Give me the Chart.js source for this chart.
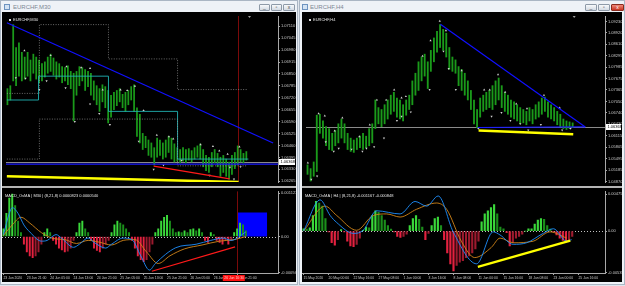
<!DOCTYPE html>
<html>
<head>
<meta charset="utf-8">
<script src="https://cdn.jsdelivr.net/npm/chart.js@4.4.0/dist/chart.umd.min.js"></script>
<style>
html, body { margin: 0; padding: 0; }
body { width: 625px; height: 286px; background: #dfe5ec; position: relative; overflow: hidden; font-family: "Liberation Sans", Arial, sans-serif; }
.win { position: absolute; top: 0; height: 285px; background: #eef2f7; border: 1px solid #aab6c4; box-sizing: border-box; }
.ttl { position: absolute; top: 3px; font-size: 6px; color: #7d8794; }
.ico { position: absolute; top: 3px; width: 6px; height: 6px; border: 1px solid #6d93c0; background: #d3e3f4; box-sizing: border-box; }
.btn { position: absolute; top: 3px; height: 7px; border: 1px solid #8e9aa8; background: linear-gradient(#f7f9fb, #d3dae3); box-sizing: border-box; border-radius: 1px; font-size: 5px; line-height: 5px; text-align: center; color: #444; }
.pane { position: absolute; background: #000; }
.sep { position: absolute; height: 2px; background: #b4b4b4; }
canvas { position: absolute; }
</style>
</head>
<body>
<div class="win" style="left:0;width:298px">
  <div class="ico" style="left:3px"></div><div class="ttl" style="left:12px">EURCHF,M30</div>
  <div class="btn" style="left:258px;width:11px">_</div>
  <div class="btn" style="left:270px;width:11px">▫</div>
  <div class="btn" style="left:282px;width:12px">x</div>
</div>
<div class="win" style="left:299px;width:326px">
  <div class="ico" style="left:2px"></div><div class="ttl" style="left:10px">EURCHF,H4</div>
  <div class="btn" style="left:285px;width:12px">_</div>
  <div class="btn" style="left:298px;width:12px">▫</div>
  <div class="btn" style="left:311px;width:13px;background:linear-gradient(#f08a7a,#c8321f);border-color:#8a2a1e;color:#fff">x</div>
</div>
<div class="pane" style="left:2px;top:12px;width:294px;height:270px"></div>
<div class="pane" style="left:302px;top:12px;width:320px;height:270px"></div>
<canvas id="mainL" width="294" height="174" style="left:2px;top:12px"></canvas>
<canvas id="macdL" width="294" height="94" style="left:2px;top:188px"></canvas>
<canvas id="mainR" width="320" height="174" style="left:302px;top:12px"></canvas>
<canvas id="macdR" width="320" height="94" style="left:302px;top:188px"></canvas>
<div class="sep" style="left:2px;top:186px;width:294px"></div>
<div class="sep" style="left:302px;top:186px;width:320px"></div>
<script>
// ---------- EURCHF,M30 (left) ----------
const highL = [1.06770, 1.06786, 1.07119, 1.06994, 1.07020, 1.06968, 1.06942, 1.06968, 1.06926, 1.06958,
  1.06942, 1.06926, 1.06906, 1.06916, 1.06942, 1.06958, 1.06937, 1.06916, 1.06906, 1.06890,
  1.06885, 1.06895, 1.06864, 1.06854, 1.06864, 1.06890, 1.06885, 1.06874, 1.06864, 1.06854,
  1.06812, 1.06786, 1.06770, 1.06791, 1.06781, 1.06760, 1.06734, 1.06750, 1.06760, 1.06770,
  1.06739, 1.06750, 1.06760, 1.06781, 1.06791, 1.06666, 1.06630, 1.06526, 1.06510, 1.06490,
  1.06474, 1.06448, 1.06500, 1.06490, 1.06474, 1.06490, 1.06510, 1.06500, 1.06469, 1.06448,
  1.06438, 1.06448, 1.06438, 1.06443, 1.06432, 1.06448, 1.06458, 1.06469, 1.06438, 1.06406,
  1.06396, 1.06422, 1.06438, 1.06417, 1.06396, 1.06406, 1.06386, 1.06370, 1.06406, 1.06422,
  1.06458, 1.06438, 1.06417, 1.06427];
const lowL = [1.06682, 1.06708, 1.06812, 1.06786, 1.06838, 1.06812, 1.06822, 1.06838, 1.06812, 1.06854,
  1.06822, 1.06802, 1.06812, 1.06833, 1.06854, 1.06864, 1.06843, 1.06822, 1.06833, 1.06802,
  1.06812, 1.06791, 1.06770, 1.06594, 1.06734, 1.06786, 1.06812, 1.06760, 1.06781, 1.06734,
  1.06708, 1.06682, 1.06646, 1.06698, 1.06666, 1.06583, 1.06614, 1.06656, 1.06677, 1.06698,
  1.06666, 1.06646, 1.06682, 1.06708, 1.06646, 1.06510, 1.06474, 1.06438, 1.06448, 1.06406,
  1.06396, 1.06354, 1.06396, 1.06406, 1.06386, 1.06396, 1.06422, 1.06386, 1.06370, 1.06375,
  1.06365, 1.06375, 1.06365, 1.06380, 1.06370, 1.06386, 1.06396, 1.06386, 1.06344, 1.06323,
  1.06313, 1.06344, 1.06365, 1.06344, 1.06292, 1.06313, 1.06292, 1.06276, 1.06302, 1.06334,
  1.06354, 1.06370, 1.06365, 1.06380];
const priceTicksL = [1.07110, 1.07045, 1.06980, 1.06915, 1.06850, 1.06785, 1.06720, 1.06655, 1.06590, 1.06525, 1.06460, 1.06395, 1.06330, 1.06265];
const lastPrice = 1.06368;
const timeIdxL = [0, 8, 16, 24, 32, 40, 48, 56, 64, 72, 80];
const timeLabelsL = ['23 Jun 2020', '23 Jun 21:00', '24 Jun 05:00', '24 Jun 13:00', '24 Jun 21:00', '25 Jun 05:00', '25 Jun 13:00', '25 Jun 21:00', '26 Jun 05:00', '26 Jun 13:00', '26 Jun 21:00'];
const trendBlueL = [[-0.2, 1.07129], [92.3, 1.06474]];
const supportBlueL = [[-0.5, 1.06358], [94, 1.06358]];
const yellowL = [[-0.2, 1.06292], [80.3, 1.06261]];
const redL = [[50.8, 1.06348], [77.2, 1.06278]];
const upperChanL = [[-0.2, 1.06744], [11.1, 1.07119], [35.1, 1.06932], [59.1, 1.06765], [83.4, 1.06765]];
const lowerChanL = [[-0.2, 1.06386], [11.1, 1.06604], [59.1, 1.06349], [83.4, 1.06349]];
const midStepL = [[-0.2, 1.06708], [10.8, 1.06838], [35.1, 1.06646], [59.1, 1.06386], [83.7, 1.06386]];
const fracUpL = [[5.9, 1.06977], [15, 1.06951], [20.5, 1.06890], [25.6, 1.06885], [28.7, 1.06881], [33.1, 1.06764], [39.3, 1.06764], [41.6, 1.06760], [44.3, 1.06784], [47.3, 1.06651], [51.9, 1.06517], [56.1, 1.06509], [57.6, 1.06496], [67.1, 1.06465], [71.4, 1.06455], [73.6, 1.06431], [76.5, 1.06413], [80.6, 1.06453]];
const fracDnL = [[2.9, 1.06829], [6.3, 1.06826], [11.1, 1.06765], [13.6, 1.06812], [20.2, 1.06774], [23.4, 1.06590], [28.7, 1.06686], [31.9, 1.06634], [35.6, 1.06573], [45.6, 1.06483], [50.8, 1.06330], [54.2, 1.06353], [60.5, 1.06379], [70.2, 1.06297], [77.3, 1.06340], [78.7, 1.06276], [81, 1.06344]];
const periodSepL = 80;
const histL = [0.0002, 0.0006, 0.0010, 0.0011, 0.0008, 0.0004, 0.0001, -0.0002, -0.0004, -0.0005,
  -0.00055, -0.0005, -0.0004, -0.0002, 0.0001, 0.0002, 0.0001, -0.0001, -0.0002, -0.0003,
  -0.00035, -0.0004, -0.00038, -0.0003, -0.0001, 0.0001, 0.00035, 0.0004, 0.0002, 0.0001,
  -0.0001, -0.0003, -0.00036, -0.0004, -0.0003, -0.0002, -0.0001, 0.0001, 0.0003, 0.0004,
  0.00035, 0.0003, 0.0002, 0.0001, -0.0001, -0.0003, -0.0005, -0.0006, -0.00065, -0.0006,
  -0.0004, -0.0002, 0.0001, 0.0002, 0.0004, 0.0005, 0.00055, 0.0004, 0.0002, 0.0001,
  0.00012, 0.0001, 0.00015, 0.0001, 0.00018, 0.0002, 0.00015, 0.0002, 0.0001, -0.0001,
  -0.00015, 0.0001, 0.00005, -0.0001, -0.00015, -0.0002, -0.0001, -0.0002, -0.0001, 0.0001,
  0.0002, 0.00035, 0.0003, 0.00015];
const macdL = [[0, 0.00005], [2, 0.0006], [3, 0.00075], [5, 0.0006], [7, 0.0003], [9, 0.00012], [13, -0.00012], [15, -0.0001], [18, 0.00005], [20, -0.00005], [24, -0.00028], [26, -0.0002], [29, -0.00004], [31, -0.00015], [35, -0.0003], [37, -0.0002], [41, -0.00004], [44, -0.00008], [47, -0.0005], [50, -0.00087], [52, -0.0007], [59, -0.00029], [66, -0.0002], [71, -0.0001], [75, -0.00004], [78, -0.0001], [83, 0.00012]];
const signalL = [[0, 0.00003], [3, 0.0003], [6, 0.0005], [9, 0.00035], [13, 0.0001], [17, -0.00005], [21, -0.00008], [25, -0.00018], [29, -0.0001], [33, -0.00015], [37, -0.00022], [41, -0.0001], [45, -0.00008], [49, -0.0004], [53, -0.0007], [57, -0.0005], [62, -0.00032], [68, -0.00022], [74, -0.00012], [79, -0.00008], [83, 0]];
const macdRedL = [[50.8, -0.0009], [79.3, -0.00027]];
const blueBoxL = [[80.3, 0.00062], [90.3, 0.00062]];
const macdTicksL = [0.00112, 0, -0.00094];
const macdLabelsL = ['0.001123', '0.00', '-0.000940'];

// ---------- EURCHF,H4 (right) ----------
const highR = [1.05329, 1.05226, 1.05407, 1.06679, 1.06705, 1.06523, 1.06367, 1.06315, 1.06186, 1.06264,
  1.06445, 1.06575, 1.06445, 1.06186, 1.06056, 1.06004, 1.06056, 1.06108, 1.06186, 1.06108,
  1.06315, 1.06445, 1.07094, 1.06886, 1.06834, 1.06964, 1.07094, 1.07224, 1.07302, 1.07146,
  1.07094, 1.06964, 1.07094, 1.07224, 1.07613, 1.07821, 1.08132, 1.08262, 1.08340, 1.08132,
  1.08443, 1.08781, 1.08962, 1.09144, 1.09014, 1.08910, 1.08521, 1.08262, 1.08184, 1.08002,
  1.07924, 1.07821, 1.07613, 1.07353, 1.07094, 1.06834, 1.07146, 1.07224, 1.07302, 1.07353,
  1.07483, 1.07613, 1.07691, 1.07483, 1.07302, 1.07224, 1.07094, 1.07042, 1.06964, 1.06886,
  1.06834, 1.06783, 1.06886, 1.06834, 1.06964, 1.07042, 1.07146, 1.07172, 1.07042, 1.06964,
  1.06886, 1.06783, 1.06705, 1.06575, 1.06523, 1.06497, 1.06471];
const lowR = [1.05070, 1.04888, 1.05018, 1.05148, 1.06186, 1.06056, 1.05848, 1.05745, 1.05719, 1.05848,
  1.05926, 1.06056, 1.05926, 1.05745, 1.05693, 1.05667, 1.05745, 1.05796, 1.05745, 1.05796,
  1.05848, 1.05926, 1.06315, 1.06445, 1.06367, 1.06445, 1.06575, 1.06705, 1.06783, 1.06627,
  1.06575, 1.06523, 1.06679, 1.06834, 1.06964, 1.07224, 1.07353, 1.07613, 1.07743, 1.07405,
  1.07872, 1.08132, 1.08391, 1.08521, 1.08443, 1.08262, 1.07924, 1.07872, 1.07821, 1.07483,
  1.07353, 1.07224, 1.07094, 1.06834, 1.06445, 1.06341, 1.06627, 1.06783, 1.06834, 1.06886,
  1.06834, 1.06964, 1.07094, 1.06886, 1.06783, 1.06705, 1.06627, 1.06575, 1.06523, 1.06445,
  1.06471, 1.06419, 1.06523, 1.06445, 1.06575, 1.06627, 1.06705, 1.06783, 1.06627, 1.06575,
  1.06523, 1.06419, 1.06367, 1.06315, 1.06290, 1.06315, 1.06341];
const priceTicksR = [1.09230, 1.08920, 1.08610, 1.08295, 1.07985, 1.07675, 1.07365, 1.07050, 1.06740, 1.06430, 1.06115, 1.05805, 1.05495, 1.05185, 1.04870];
const timeIdxR = [0, 8, 16, 24, 32, 40, 48, 56, 64, 72, 80, 88];
const timeLabelsR = ['15 May 2020', '20 May 00:00', '22 May 16:00', '27 May 08:00', '1 Jun 00:00', '3 Jun 16:00', '8 Jun 08:00', '11 Jun 00:00', '15 Jun 16:00', '18 Jun 08:00', '23 Jun 00:00', '25 Jun 16:00'];
const trendBlueR = [[43.1, 1.09152], [90.1, 1.06360]];
const supportBlueR = [[55.2, 1.06345], [90.1, 1.06360]];
const yellowR = [[55.5, 1.06264], [86.2, 1.06160]];
const fracUpR = [[0.1, 1.05381], [3.6, 1.06723], [5.6, 1.06661], [8.8, 1.06256], [11.3, 1.06609], [16.8, 1.06100], [20.2, 1.06419], [22.5, 1.07094], [25.5, 1.07094], [28.1, 1.07372], [30.5, 1.07154], [31.9, 1.07190], [37.3, 1.08288], [39.9, 1.08711], [42.9, 1.09240], [44.9, 1.08981], [50, 1.07891], [57.3, 1.07372], [59.1, 1.07372], [61.8, 1.07787], [64.1, 1.07309], [67.7, 1.06990], [71.2, 1.06860], [76.7, 1.07224], [81.8, 1.06879]];
const fracDnR = [[1.2, 1.04932], [3.1, 1.05018], [5.9, 1.05952], [8.5, 1.05693], [10.1, 1.05778], [14.3, 1.05752], [17.8, 1.05693], [19.1, 1.05778], [21.6, 1.05815], [24.8, 1.06056], [29, 1.06531], [30.5, 1.06645], [33.5, 1.06765], [39.6, 1.07372], [44.1, 1.08418], [45.8, 1.07943], [48.1, 1.07372], [55.4, 1.06316], [59.7, 1.06645], [62.9, 1.06749], [65.8, 1.06531], [69, 1.06445], [71.6, 1.06272], [75.7, 1.06419], [82.6, 1.06272], [85.3, 1.06316]];
const histR = [0.0003, 0.00025, 0.0004, 0.002, 0.0038, 0.0036, 0.0032, 0.0016, -0.0001, -0.0015,
  -0.0018, -0.0011, 0.0002, -0.0001, -0.0013, -0.0019, -0.002, -0.0017, -0.0009, 0.0001,
  0.0005, 0.0004, 0.002, 0.0026, 0.0024, 0.002, 0.0014, 0.0007, 0.00025, -0.0001,
  -0.0007, -0.0008, -0.0007, -0.0004, 0.0007, 0.0016, 0.002, 0.0015, 0.0005, -0.0011,
  -0.0003, 0.0007, 0.0016, 0.0018, 0.0007, -0.0011, -0.0028, -0.0042, -0.0051, -0.0044,
  -0.004, -0.0038, -0.0034, -0.0032, -0.0028, -0.0023, -0.0013, 0.0012, 0.0022, 0.0026,
  0.003, 0.0034, 0.0022, 0.0005, 0.0003, -0.0002, -0.0019, -0.0015, -0.0009, -0.0007,
  -0.0004, 0, 0.0003, 0.0003, 0.0009, 0.0014, 0.0016, 0.0015, 0.0007, 0.00025,
  -0.0001, -0.0005, -0.0009, -0.0012, -0.0014, -0.0011, -0.0007];
const macdR = [[0, 0], [5.3, 0.004], [8.5, 0.002], [10.6, 0.0011], [16, -0.0003], [19.1, 0.0001], [23.4, 0.0026], [30.9, 0.0022], [35.7, 0.0038], [39.4, 0.0032], [43.1, 0.0045], [47.9, -0.0001], [55.4, -0.0042], [60.7, -0.0001], [62.9, -0.0005], [67.1, -0.0017], [71.4, -0.0015], [76.7, -0.0003], [80, 0.0003], [84.2, -0.0013], [85.8, -0.0011]];
const signalR = [[0, 0], [6.9, 0.0032], [10.6, 0.002], [17, 0.0001], [22.3, 0.002], [26.6, 0.0022], [30.9, 0.0018], [36.2, 0.0028], [42.6, 0.0036], [45.8, 0.0028], [50.5, -0.0013], [54.8, -0.0034], [60.1, -0.0021], [62.9, -0.0009], [67.1, -0.0015], [73.5, -0.0013], [78.9, -0.0001], [84.2, -0.0009]];
const macdYellowR = [[55.8, -0.0046], [85.4, -0.00123]];
const macdTicksR = [0.004754, 0, -0.00535];
const macdLabelsR = ['0.004754', '0.00', '-0.005351'];

Chart.defaults.font.family = '"Liberation Sans", Arial, sans-serif';
Chart.defaults.font.size = 4;
Chart.defaults.color = '#c8c8c8';

const pts = arr => arr.map(p => ({ x: p[0], y: p[1] }));

// MT4 furniture: window label, level line, period separator, price box, shift marker
const mt4 = {
  id: 'mt4',
  beforeDatasetsDraw(chart, args, o) {
    const { ctx, chartArea: a, scales: { x, y } } = chart;
    ctx.save();
    if (o.sep !== undefined) {
      const px = Math.round(x.getPixelForValue(o.sep)) + 0.5;
      ctx.strokeStyle = '#7a0a0a'; ctx.lineWidth = 1;
      ctx.beginPath(); ctx.moveTo(px, a.top); ctx.lineTo(px, a.bottom); ctx.stroke();
    }
    if (o.zero) {
      const py = Math.round(y.getPixelForValue(0)) + 0.5;
      ctx.strokeStyle = '#c0c0c0'; ctx.setLineDash([1, 2]);
      ctx.beginPath(); ctx.moveTo(a.left, py); ctx.lineTo(a.right, py); ctx.stroke();
      ctx.setLineDash([]);
    }
    if (o.price !== undefined) {
      const py = Math.round(y.getPixelForValue(o.price)) + 0.5;
      ctx.strokeStyle = '#8a8a8a';
      ctx.beginPath(); ctx.moveTo(a.left, py); ctx.lineTo(a.right, py); ctx.stroke();
    }
    ctx.restore();
  },
  afterDraw(chart, args, o) {
    const { ctx, chartArea: a, scales: { x, y } } = chart;
    ctx.save();
    ctx.textBaseline = 'middle';
    if (o.title) {
      ctx.font = '4px "Liberation Sans", Arial';
      if (o.square) { ctx.fillStyle = '#e0e0e0'; ctx.fillRect(a.left + 3, a.top + 3, 2, 2); }
      ctx.fillStyle = '#e6e6e6';
      ctx.fillText(o.title, a.left + (o.square ? 7 : 3), a.top + 4);
    }
    if (o.price !== undefined) {
      const py = Math.round(y.getPixelForValue(o.price));
      ctx.fillStyle = '#ffffff';
      ctx.fillRect(a.right + 1, py - 3, chart.width - a.right - 2, 6);
      ctx.fillStyle = '#000000';
      ctx.font = '4px "Liberation Sans", Arial';
      ctx.fillText(o.price.toFixed(5), a.right + 2.5, py + 0.3);
    }
    if (o.shift !== undefined) {
      const px = x.getPixelForValue(o.shift);
      ctx.fillStyle = '#a0a0a0';
      ctx.beginPath(); ctx.moveTo(px - 1.5, a.top); ctx.lineTo(px + 1.5, a.top); ctx.lineTo(px, a.top + 2); ctx.fill();
    }
    if (o.timeBox) {
      const px = x.getPixelForValue(o.timeBox[0]);
      ctx.fillStyle = '#ff1010';
      ctx.fillRect(px, a.bottom + 2, 22, 6);
      ctx.fillStyle = '#ffc8c8';
      ctx.font = '3.4px "Liberation Sans", Arial';
      ctx.fillText(o.timeBox[1], px + 1.5, a.bottom + 5.2);
    }
    ctx.restore();
  }
};

function priceAxis(min, max, ticks, w) {
  return {
    position: 'right', min: min, max: max,
    afterBuildTicks: s => { s.ticks = ticks.map(v => ({ value: v })); },
    afterFit: s => { s.width = w; },
    ticks: { autoSkip: false, padding: 1, callback: (v, i) => ticks[i].toFixed(5) },
    grid: { drawOnChartArea: false, tickLength: 2, color: '#a8a8a8' },
    border: { color: '#a8a8a8' }
  };
}

function levelAxis(min, max, ticks, labels, w) {
  return {
    position: 'right', min: min, max: max,
    afterBuildTicks: s => { s.ticks = ticks.map(v => ({ value: v })); },
    afterFit: s => { s.width = w; },
    ticks: { autoSkip: false, padding: 1, callback: (v, i) => labels[i] },
    grid: { drawOnChartArea: false, tickLength: 2, color: '#a8a8a8' },
    border: { color: '#a8a8a8' }
  };
}

function timeAxis(max, idx, labels) {
  return {
    type: 'linear', min: -0.5, max: max, offset: false,
    afterBuildTicks: s => { s.ticks = idx.map(v => ({ value: v })); },
    afterFit: s => { s.height = 9; },
    ticks: { autoSkip: false, maxRotation: 0, align: 'start', padding: 1, font: { size: 3.4 }, callback: (v, i) => labels[i] },
    grid: { drawOnChartArea: false, tickLength: 2, color: '#a8a8a8', offset: false },
    border: { color: '#a8a8a8' }
  };
}

function lineSet(data, color, width, order, extra) {
  return Object.assign({ type: 'line', data: pts(data), borderColor: color, borderWidth: width, pointRadius: 0, tension: 0, order: order }, extra || {});
}

function markerSet(data, down) {
  return { type: 'line', data: pts(data), showLine: false, pointStyle: 'triangle', pointRadius: 1.3, pointRotation: down ? 180 : 0, pointBackgroundColor: '#cfcfcf', pointBorderWidth: 0, order: 5 };
}

function histColor(hist) {
  return c => {
    const v = hist[c.dataIndex], p = c.dataIndex > 0 ? hist[c.dataIndex - 1] : v;
    if (v >= 0) return v >= p ? '#3ad83a' : '#1b8f1b';
    return v <= p ? '#e3213f' : '#9c1a2e';
  };
}

const baseOpts = (scales, mt4opts) => ({
  responsive: false, animation: false, maintainAspectRatio: false,
  layout: { padding: 0 },
  plugins: { legend: { display: false }, tooltip: { enabled: false }, mt4: mt4opts },
  scales: scales
});

// left main
new Chart(document.getElementById('mainL'), {
  type: 'bar',
  data: {
    datasets: [
      lineSet(trendBlueL, '#1010ff', 1.2, 1),
      lineSet(supportBlueL, '#1a1aff', 1.2, 1),
      lineSet(yellowL, '#ffff00', 2.5, 1),
      lineSet(redL, '#ff1a1a', 1.2, 1),
      markerSet(fracUpL, false),
      markerSet(fracDnL, true),
      lineSet(upperChanL, '#9a9a9a', 0.7, 8, { stepped: true, borderDash: [1, 1.5] }),
      lineSet(lowerChanL, '#9a9a9a', 0.7, 8, { stepped: true, borderDash: [1, 1.5] }),
      lineSet(midStepL, '#20b2b2', 0.9, 8, { stepped: true }),
      { type: 'bar', data: highL.map((h, i) => ({ x: i, y: [lowL[i], h] })), backgroundColor: '#1a9a1a', barThickness: 1.1, order: 10 }
    ]
  },
  options: baseOpts({
    x: { type: 'linear', min: -0.5, max: 94, display: false, offset: false },
    y: priceAxis(1.06261, 1.07166, priceTicksL, 18)
  }, { title: 'EURCHF,M30', square: true, price: lastPrice, sep: periodSepL, shift: 84.1 }),
  plugins: [mt4]
});

// left MACD
new Chart(document.getElementById('macdL'), {
  type: 'bar',
  data: {
    datasets: [
      lineSet(macdRedL, '#ff1a1a', 1.2, 1),
      lineSet(macdL, '#1e90ff', 0.9, 2, { cubicInterpolationMode: 'monotone' }),
      lineSet(signalL, '#d2861a', 0.9, 2, { cubicInterpolationMode: 'monotone' }),
      { type: 'bar', data: histL.map((v, i) => ({ x: i, y: v })), backgroundColor: histColor(histL), barThickness: 1.3, order: 6 },
      lineSet(blueBoxL, 'rgba(0,0,0,0)', 0, 12, { fill: 'origin', backgroundColor: '#0000ff' })
    ]
  },
  options: baseOpts({
    x: timeAxis(94, timeIdxL, timeLabelsL),
    y: levelAxis(-0.000946, 0.00117, macdTicksL, macdLabelsL, 18)
  }, { title: 'MACD_OsMA | M30 | (8,21,8) 0.0000823 0.0000540', zero: true, sep: periodSepL, timeBox: [75.1, '26 Jun 16:30'] }),
  plugins: [mt4]
});

// right main
new Chart(document.getElementById('mainR'), {
  type: 'bar',
  data: {
    datasets: [
      lineSet(trendBlueR, '#1010ff', 1.2, 1),
      lineSet(supportBlueR, '#1a1aff', 1.2, 1),
      lineSet(yellowR, '#ffff00', 2.5, 1),
      markerSet(fracUpR, false),
      markerSet(fracDnR, true),
      { type: 'bar', data: highR.map((h, i) => ({ x: i, y: [lowR[i], h] })), backgroundColor: '#1a9a1a', barThickness: 1.2, order: 10 }
    ]
  },
  options: baseOpts({
    x: { type: 'linear', min: -0.5, max: 96.5, display: false, offset: false },
    y: priceAxis(1.04862, 1.09378, priceTicksR, 17)
  }, { title: 'EURCHF,H4', square: true, price: lastPrice, shift: 86.5 }),
  plugins: [mt4]
});

// right MACD
new Chart(document.getElementById('macdR'), {
  type: 'bar',
  data: {
    datasets: [
      lineSet(macdYellowR, '#ffff00', 2.2, 1),
      lineSet(macdR, '#1e90ff', 0.9, 2, { cubicInterpolationMode: 'monotone' }),
      lineSet(signalR, '#d2861a', 0.9, 2, { cubicInterpolationMode: 'monotone' }),
      { type: 'bar', data: histR.map((v, i) => ({ x: i, y: v })), backgroundColor: histColor(histR), barThickness: 1.5, order: 6 }
    ]
  },
  options: baseOpts({
    x: timeAxis(96.5, timeIdxR, timeLabelsR),
    y: levelAxis(-0.00538, 0.00509, macdTicksR, macdLabelsR, 17)
  }, { title: 'MACD_OsMA | H4 | (8,21,8) -0.001167 -0.000848', zero: true }),
  plugins: [mt4]
});
</script>
</body>
</html>
